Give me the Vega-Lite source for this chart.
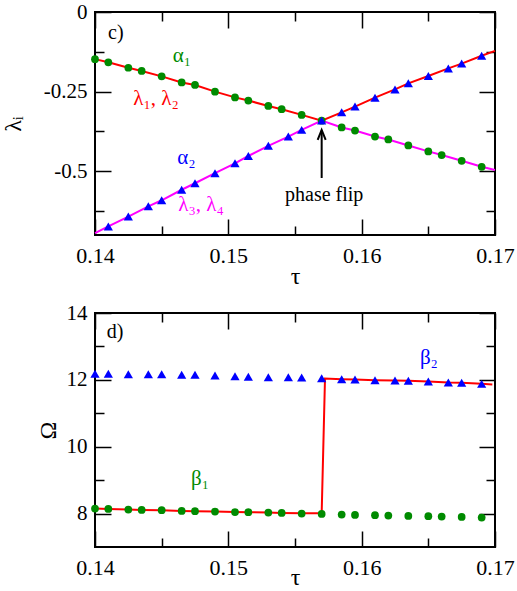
{
  "$schema": "https://vega.github.io/schema/vega-lite/v6.json",
  "background": "white",
  "padding": {"left": 0, "top": 0, "right": 0, "bottom": 0},
  "spacing": 12,
  "resolve": {"scale": {"color": "independent"}},
  "config": {
    "view": {"stroke": "black", "strokeWidth": 2},
    "axis": {"grid": false, "domain": false, "tickColor": "black", "tickWidth": 1.5}
  },
  "datasets": {
    "c_lines": [
      {"curve": "l12", "tau": 0.14, "lam": -0.148},
      {"curve": "l12", "tau": 0.141, "lam": -0.158},
      {"curve": "l12", "tau": 0.1425, "lam": -0.175},
      {"curve": "l12", "tau": 0.1435, "lam": -0.185},
      {"curve": "l12", "tau": 0.145, "lam": -0.202},
      {"curve": "l12", "tau": 0.1465, "lam": -0.221},
      {"curve": "l12", "tau": 0.1475, "lam": -0.229},
      {"curve": "l12", "tau": 0.149, "lam": -0.25},
      {"curve": "l12", "tau": 0.1505, "lam": -0.268},
      {"curve": "l12", "tau": 0.1515, "lam": -0.278},
      {"curve": "l12", "tau": 0.153, "lam": -0.295},
      {"curve": "l12", "tau": 0.154, "lam": -0.305},
      {"curve": "l12", "tau": 0.1555, "lam": -0.323},
      {"curve": "l12", "tau": 0.157, "lam": -0.341},
      {"curve": "l12", "tau": 0.1585, "lam": -0.315},
      {"curve": "l12", "tau": 0.1595, "lam": -0.297},
      {"curve": "l12", "tau": 0.161, "lam": -0.269},
      {"curve": "l12", "tau": 0.1625, "lam": -0.243},
      {"curve": "l12", "tau": 0.1635, "lam": -0.224},
      {"curve": "l12", "tau": 0.165, "lam": -0.201},
      {"curve": "l12", "tau": 0.1665, "lam": -0.177},
      {"curve": "l12", "tau": 0.1675, "lam": -0.162},
      {"curve": "l12", "tau": 0.169, "lam": -0.1375},
      {"curve": "l12", "tau": 0.17, "lam": -0.122},
      {"curve": "l34", "tau": 0.14, "lam": -0.694},
      {"curve": "l34", "tau": 0.141, "lam": -0.673},
      {"curve": "l34", "tau": 0.1425, "lam": -0.642},
      {"curve": "l34", "tau": 0.144, "lam": -0.61},
      {"curve": "l34", "tau": 0.145, "lam": -0.591},
      {"curve": "l34", "tau": 0.1465, "lam": -0.558},
      {"curve": "l34", "tau": 0.1475, "lam": -0.5375},
      {"curve": "l34", "tau": 0.149, "lam": -0.506},
      {"curve": "l34", "tau": 0.1505, "lam": -0.475},
      {"curve": "l34", "tau": 0.1515, "lam": -0.452},
      {"curve": "l34", "tau": 0.153, "lam": -0.42},
      {"curve": "l34", "tau": 0.1545, "lam": -0.391},
      {"curve": "l34", "tau": 0.1555, "lam": -0.37},
      {"curve": "l34", "tau": 0.157, "lam": -0.341},
      {"curve": "l34", "tau": 0.1585, "lam": -0.3625},
      {"curve": "l34", "tau": 0.1595, "lam": -0.372},
      {"curve": "l34", "tau": 0.161, "lam": -0.391},
      {"curve": "l34", "tau": 0.162, "lam": -0.4},
      {"curve": "l34", "tau": 0.1635, "lam": -0.419},
      {"curve": "l34", "tau": 0.165, "lam": -0.4375},
      {"curve": "l34", "tau": 0.166, "lam": -0.449},
      {"curve": "l34", "tau": 0.1675, "lam": -0.467},
      {"curve": "l34", "tau": 0.169, "lam": -0.486},
      {"curve": "l34", "tau": 0.17, "lam": -0.496}
    ],
    "c_circ": [
      {"tau": 0.14, "lam": -0.148}, {"tau": 0.141, "lam": -0.158}, {"tau": 0.1425, "lam": -0.175},
      {"tau": 0.1435, "lam": -0.185}, {"tau": 0.145, "lam": -0.202}, {"tau": 0.1465, "lam": -0.221},
      {"tau": 0.1475, "lam": -0.229}, {"tau": 0.149, "lam": -0.25}, {"tau": 0.1505, "lam": -0.268},
      {"tau": 0.1515, "lam": -0.278}, {"tau": 0.153, "lam": -0.295}, {"tau": 0.154, "lam": -0.305},
      {"tau": 0.1555, "lam": -0.323}, {"tau": 0.157, "lam": -0.341}, {"tau": 0.1585, "lam": -0.3625},
      {"tau": 0.1595, "lam": -0.372}, {"tau": 0.161, "lam": -0.391}, {"tau": 0.162, "lam": -0.4},
      {"tau": 0.1635, "lam": -0.419}, {"tau": 0.165, "lam": -0.4375}, {"tau": 0.166, "lam": -0.449},
      {"tau": 0.1675, "lam": -0.467}, {"tau": 0.169, "lam": -0.486}
    ],
    "c_tri": [
      {"tau": 0.141, "lam": -0.673}, {"tau": 0.1425, "lam": -0.642}, {"tau": 0.144, "lam": -0.61},
      {"tau": 0.145, "lam": -0.591}, {"tau": 0.1465, "lam": -0.558}, {"tau": 0.1475, "lam": -0.5375},
      {"tau": 0.149, "lam": -0.506}, {"tau": 0.1505, "lam": -0.475}, {"tau": 0.1515, "lam": -0.452},
      {"tau": 0.153, "lam": -0.42}, {"tau": 0.1545, "lam": -0.391}, {"tau": 0.1555, "lam": -0.37},
      {"tau": 0.157, "lam": -0.341}, {"tau": 0.1585, "lam": -0.315}, {"tau": 0.1595, "lam": -0.297},
      {"tau": 0.161, "lam": -0.269}, {"tau": 0.1625, "lam": -0.243}, {"tau": 0.1635, "lam": -0.224},
      {"tau": 0.165, "lam": -0.201}, {"tau": 0.1665, "lam": -0.177}, {"tau": 0.1675, "lam": -0.162},
      {"tau": 0.169, "lam": -0.1375}
    ],
    "c_greek": [
      {"label": "α₁", "k": "a1", "tau": 0.14583, "lam": -0.156},
      {"label": "λ₁, λ₂", "k": "l12", "tau": 0.14287, "lam": -0.291},
      {"label": "α₂", "k": "a2", "tau": 0.14617, "lam": -0.478},
      {"label": "λ₃, λ₄", "k": "l34", "tau": 0.14625, "lam": -0.625}
    ],
    "c_black": [
      {"label": "c)", "tau": 0.14098, "lam": -0.084},
      {"label": "phase flip", "tau": 0.15425, "lam": -0.594}
    ],
    "c_arrow": [
      {"tau": 0.157, "lam": -0.521, "lam2": -0.372}
    ],
    "c_head": [
      {"tau": 0.157, "lam": -0.37}
    ],
    "d_line": [
      {"tau": 0.14, "om": 8.15}, {"tau": 0.141, "om": 8.14}, {"tau": 0.1425, "om": 8.12},
      {"tau": 0.1435, "om": 8.11}, {"tau": 0.145, "om": 8.1}, {"tau": 0.1465, "om": 8.08},
      {"tau": 0.1475, "om": 8.07}, {"tau": 0.149, "om": 8.06}, {"tau": 0.1505, "om": 8.045},
      {"tau": 0.1515, "om": 8.04}, {"tau": 0.153, "om": 8.03}, {"tau": 0.154, "om": 8.02},
      {"tau": 0.1555, "om": 8.01}, {"tau": 0.157, "om": 8.01}, {"tau": 0.15725, "om": 12.04},
      {"tau": 0.1585, "om": 12.02}, {"tau": 0.1595, "om": 12.01}, {"tau": 0.161, "om": 11.99},
      {"tau": 0.1625, "om": 11.98}, {"tau": 0.1635, "om": 11.97}, {"tau": 0.165, "om": 11.95},
      {"tau": 0.1665, "om": 11.92}, {"tau": 0.1675, "om": 11.91}, {"tau": 0.169, "om": 11.88},
      {"tau": 0.1698, "om": 11.86}
    ],
    "d_circ": [
      {"tau": 0.14, "om": 8.15}, {"tau": 0.141, "om": 8.14}, {"tau": 0.1425, "om": 8.12},
      {"tau": 0.1435, "om": 8.11}, {"tau": 0.145, "om": 8.1}, {"tau": 0.1465, "om": 8.08},
      {"tau": 0.1475, "om": 8.07}, {"tau": 0.149, "om": 8.06}, {"tau": 0.1505, "om": 8.045},
      {"tau": 0.1515, "om": 8.04}, {"tau": 0.153, "om": 8.03}, {"tau": 0.154, "om": 8.02},
      {"tau": 0.1555, "om": 8.0}, {"tau": 0.157, "om": 7.99}, {"tau": 0.1585, "om": 7.97},
      {"tau": 0.1595, "om": 7.96}, {"tau": 0.161, "om": 7.95}, {"tau": 0.162, "om": 7.94},
      {"tau": 0.1635, "om": 7.93}, {"tau": 0.165, "om": 7.92}, {"tau": 0.166, "om": 7.91},
      {"tau": 0.1675, "om": 7.9}, {"tau": 0.169, "om": 7.88}
    ],
    "d_tri": [
      {"tau": 0.14, "om": 12.18}, {"tau": 0.141, "om": 12.18}, {"tau": 0.1425, "om": 12.17},
      {"tau": 0.144, "om": 12.17}, {"tau": 0.145, "om": 12.17}, {"tau": 0.1465, "om": 12.15},
      {"tau": 0.1475, "om": 12.15}, {"tau": 0.149, "om": 12.13}, {"tau": 0.1505, "om": 12.11},
      {"tau": 0.1515, "om": 12.09}, {"tau": 0.153, "om": 12.08}, {"tau": 0.1545, "om": 12.08},
      {"tau": 0.1555, "om": 12.07}, {"tau": 0.157, "om": 12.05}, {"tau": 0.1585, "om": 12.02},
      {"tau": 0.1595, "om": 12.01}, {"tau": 0.161, "om": 11.99}, {"tau": 0.1625, "om": 11.98},
      {"tau": 0.1635, "om": 11.97}, {"tau": 0.165, "om": 11.95}, {"tau": 0.1665, "om": 11.92},
      {"tau": 0.1675, "om": 11.91}, {"tau": 0.169, "om": 11.88}
    ],
    "d_greek": [
      {"label": "β₁", "k": "b1", "tau": 0.1472, "om": 8.866},
      {"label": "β₂", "k": "b2", "tau": 0.16437, "om": 12.48}
    ],
    "d_black": [
      {"label": "d)", "tau": 0.14088, "om": 13.26}
    ]
  },
  "vconcat": [
    {
      "width": 400,
      "height": 223,
      "resolve": {"axis": {"x": "independent", "y": "independent"}},
      "layer": [
        {
          "data": {"name": "c_lines"},
          "transform": [{"filter": "datum.curve == 'l12'"}],
          "mark": {"type": "line", "color": "#ff0000", "strokeWidth": 2},
          "encoding": {
            "x": {"field": "tau", "type": "quantitative", "scale": {"domain": [0.14, 0.17], "nice": false, "zero": false},
                  "axis": {"orient": "bottom", "values": [0.14, 0.15, 0.16, 0.17], "tickSize": -16, "tickColor": "black", "tickWidth": 1.5, "grid": false, "domain": false,
                           "labelFont": "Liberation Serif", "labelFontSize": 22, "labelColor": "black", "labelFlush": false, "labelOverlap": false, "labelPadding": 26,
                           "title": "τ", "titleFont": "Liberation Serif", "titleFontSize": 24, "titleFontWeight": "normal", "titleColor": "black", "titlePadding": -2,
                           "labelExpr": "toString(datum.value)"}},
            "y": {"field": "lam", "type": "quantitative", "scale": {"domain": [-0.7, 0], "nice": false, "zero": false},
                  "axis": {"orient": "left", "values": [0, -0.25, -0.5], "tickSize": -16, "tickColor": "black", "tickWidth": 1.5, "grid": false, "domain": false,
                           "labelFont": "Liberation Serif", "labelFontSize": 21, "labelColor": "black", "labelFlush": false, "labelOverlap": false, "labelPadding": 24,
                           "title": "λᵢ", "titleFont": "Liberation Serif", "titleFontSize": 24, "titleFontWeight": "normal", "titleColor": "black", "titlePadding": 18,
                           "labelExpr": "toString(datum.value)"}}
          }
        },
        {
          "data": {"name": "c_lines"},
          "transform": [{"filter": "datum.curve == 'l34'"}],
          "mark": {"type": "line", "color": "#ff00ff", "strokeWidth": 2},
          "encoding": {
            "x": {"field": "tau", "type": "quantitative", "axis": {"orient": "bottom", "values": [0.145, 0.155, 0.165], "tickSize": -9, "tickColor": "black", "tickWidth": 1.5, "grid": false, "domain": false, "labels": false, "title": null}},
            "y": {"field": "lam", "type": "quantitative", "axis": {"orient": "left", "values": [-0.125, -0.375, -0.625], "tickSize": -9, "tickColor": "black", "tickWidth": 1.5, "grid": false, "domain": false, "labels": false, "title": null}}
          }
        },
        {
          "data": {"name": "c_circ"},
          "mark": {"type": "point", "shape": "circle", "filled": true, "color": "#008b00", "opacity": 1, "size": 60},
          "encoding": {
            "x": {"field": "tau", "type": "quantitative", "axis": {"orient": "top", "values": [0.14, 0.15, 0.16, 0.17], "tickSize": -16, "tickColor": "black", "tickWidth": 1.5, "grid": false, "domain": false, "labels": false, "title": null}},
            "y": {"field": "lam", "type": "quantitative", "axis": {"orient": "right", "values": [0, -0.25, -0.5], "tickSize": -16, "tickColor": "black", "tickWidth": 1.5, "grid": false, "domain": false, "labels": false, "title": null}}
          }
        },
        {
          "data": {"name": "c_tri"},
          "mark": {"type": "point", "shape": "triangle-up", "filled": true, "color": "#0000ff", "opacity": 1, "size": 85},
          "encoding": {
            "x": {"field": "tau", "type": "quantitative", "axis": {"orient": "top", "values": [0.145, 0.155, 0.165], "tickSize": -9, "tickColor": "black", "tickWidth": 1.5, "grid": false, "domain": false, "labels": false, "title": null}},
            "y": {"field": "lam", "type": "quantitative", "axis": {"orient": "right", "values": [-0.125, -0.375, -0.625], "tickSize": -9, "tickColor": "black", "tickWidth": 1.5, "grid": false, "domain": false, "labels": false, "title": null}}
          }
        },
        {
          "data": {"name": "c_greek"},
          "mark": {"type": "text", "align": "left", "baseline": "alphabetic", "font": "Liberation Serif", "fontSize": 21},
          "encoding": {
            "x": {"field": "tau", "type": "quantitative", "axis": null},
            "y": {"field": "lam", "type": "quantitative", "axis": null},
            "text": {"field": "label"},
            "color": {"field": "k", "type": "nominal", "legend": null,
                      "scale": {"domain": ["a1", "l12", "a2", "l34"], "range": ["#008b00", "#ff0000", "#0000ff", "#ff00ff"]}}
          }
        },
        {
          "data": {"name": "c_black"},
          "mark": {"type": "text", "align": "left", "baseline": "alphabetic", "font": "Liberation Serif", "fontSize": 20, "color": "black"},
          "encoding": {
            "x": {"field": "tau", "type": "quantitative", "axis": null},
            "y": {"field": "lam", "type": "quantitative", "axis": null},
            "text": {"field": "label"}
          }
        },
        {
          "data": {"name": "c_arrow"},
          "mark": {"type": "rule", "color": "black", "strokeWidth": 2},
          "encoding": {
            "x": {"field": "tau", "type": "quantitative", "axis": null},
            "y": {"field": "lam", "type": "quantitative", "axis": null},
            "y2": {"field": "lam2"}
          }
        },
        {
          "data": {"name": "c_head"},
          "mark": {"type": "point", "shape": "M-0.8,2L0,0L0.8,2", "filled": false, "color": "black", "strokeWidth": 2, "opacity": 1, "size": 100},
          "encoding": {
            "x": {"field": "tau", "type": "quantitative", "axis": null},
            "y": {"field": "lam", "type": "quantitative", "axis": null}
          }
        }
      ]
    },
    {
      "width": 400,
      "height": 234,
      "resolve": {"axis": {"x": "independent", "y": "independent"}},
      "layer": [
        {
          "data": {"name": "d_line"},
          "mark": {"type": "line", "color": "#ff0000", "strokeWidth": 2},
          "encoding": {
            "x": {"field": "tau", "type": "quantitative", "scale": {"domain": [0.14, 0.17], "nice": false, "zero": false},
                  "axis": {"orient": "bottom", "values": [0.14, 0.15, 0.16, 0.17], "tickSize": -16, "tickColor": "black", "tickWidth": 1.5, "grid": false, "domain": false,
                           "labelFont": "Liberation Serif", "labelFontSize": 22, "labelColor": "black", "labelFlush": false, "labelOverlap": false, "labelPadding": 26,
                           "title": "τ", "titleFont": "Liberation Serif", "titleFontSize": 24, "titleFontWeight": "normal", "titleColor": "black", "titlePadding": -13,
                           "labelExpr": "toString(datum.value)"}},
            "y": {"field": "om", "type": "quantitative", "scale": {"domain": [7, 14], "nice": false, "zero": false},
                  "axis": {"orient": "left", "values": [8, 10, 12, 14], "tickSize": -16, "tickColor": "black", "tickWidth": 1.5, "grid": false, "domain": false,
                           "labelFont": "Liberation Serif", "labelFontSize": 21, "labelColor": "black", "labelFlush": false, "labelOverlap": false, "labelPadding": 24,
                           "title": "Ω", "titleFont": "Liberation Serif", "titleFontSize": 24, "titleFontWeight": "normal", "titleColor": "black", "titlePadding": 6,
                           "labelExpr": "toString(datum.value)"}}
          }
        },
        {
          "data": {"name": "d_circ"},
          "mark": {"type": "point", "shape": "circle", "filled": true, "color": "#008b00", "opacity": 1, "size": 60},
          "encoding": {
            "x": {"field": "tau", "type": "quantitative", "axis": {"orient": "bottom", "values": [0.145, 0.155, 0.165], "tickSize": -9, "tickColor": "black", "tickWidth": 1.5, "grid": false, "domain": false, "labels": false, "title": null}},
            "y": {"field": "om", "type": "quantitative", "axis": {"orient": "left", "values": [9, 11, 13], "tickSize": -9, "tickColor": "black", "tickWidth": 1.5, "grid": false, "domain": false, "labels": false, "title": null}}
          }
        },
        {
          "data": {"name": "d_tri"},
          "mark": {"type": "point", "shape": "triangle-up", "filled": true, "color": "#0000ff", "opacity": 1, "size": 85},
          "encoding": {
            "x": {"field": "tau", "type": "quantitative", "axis": {"orient": "top", "values": [0.14, 0.15, 0.16, 0.17], "tickSize": -16, "tickColor": "black", "tickWidth": 1.5, "grid": false, "domain": false, "labels": false, "title": null}},
            "y": {"field": "om", "type": "quantitative", "axis": {"orient": "right", "values": [8, 10, 12, 14], "tickSize": -16, "tickColor": "black", "tickWidth": 1.5, "grid": false, "domain": false, "labels": false, "title": null}}
          }
        },
        {
          "data": {"name": "d_greek"},
          "mark": {"type": "text", "align": "left", "baseline": "alphabetic", "font": "Liberation Serif", "fontSize": 21},
          "encoding": {
            "x": {"field": "tau", "type": "quantitative", "axis": {"orient": "top", "values": [0.145, 0.155, 0.165], "tickSize": -9, "tickColor": "black", "tickWidth": 1.5, "grid": false, "domain": false, "labels": false, "title": null}},
            "y": {"field": "om", "type": "quantitative", "axis": {"orient": "right", "values": [9, 11, 13], "tickSize": -9, "tickColor": "black", "tickWidth": 1.5, "grid": false, "domain": false, "labels": false, "title": null}},
            "text": {"field": "label"},
            "color": {"field": "k", "type": "nominal", "legend": null,
                      "scale": {"domain": ["b1", "b2"], "range": ["#008b00", "#0000ff"]}}
          }
        },
        {
          "data": {"name": "d_black"},
          "mark": {"type": "text", "align": "left", "baseline": "alphabetic", "font": "Liberation Serif", "fontSize": 20, "color": "black"},
          "encoding": {
            "x": {"field": "tau", "type": "quantitative", "axis": null},
            "y": {"field": "om", "type": "quantitative", "axis": null},
            "text": {"field": "label"}
          }
        }
      ]
    }
  ]
}
